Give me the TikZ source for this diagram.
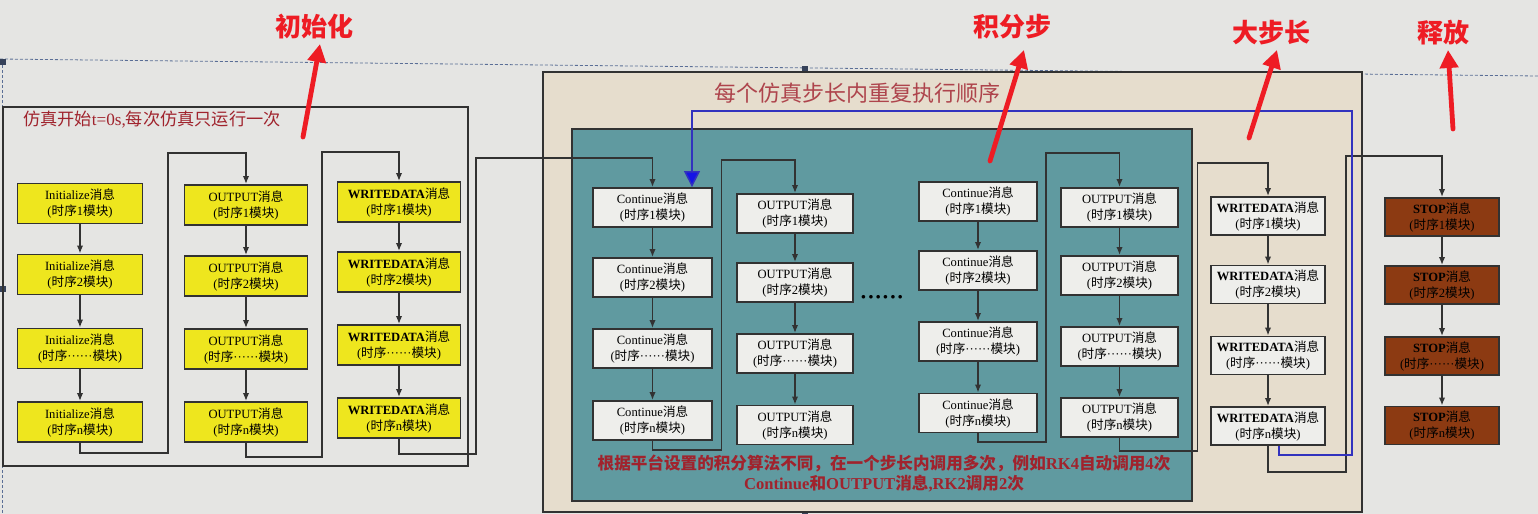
\documentclass[tikz,border=0pt]{standalone}
\usepackage{fontspec}
\setmainfont{Liberation Serif}
\newfontfamily\cjk{Noto Sans CJK SC}
\usetikzlibrary{arrows.meta}
\definecolor{bg}{RGB}{229,229,227}
\definecolor{yel}{RGB}{238,230,30}
\definecolor{boxgray}{RGB}{238,238,235}
\definecolor{tealbg}{RGB}{96,154,160}
\definecolor{beigebg}{RGB}{230,221,205}
\definecolor{brownbox}{RGB}{140,58,18}
\definecolor{dkred}{RGB}{160,35,45}
\definecolor{annred}{RGB}{238,28,36}
\definecolor{bluel}{RGB}{50,50,190}
\definecolor{bluehead}{RGB}{20,20,230}
\definecolor{frame}{RGB}{50,50,50}
\definecolor{selcol}{RGB}{90,110,150}
\newcommand{\zh}[1]{{\cjk #1}}
\newcommand{\mtxt}[2]{#1\zh{消息}\\(\zh{时序}#2\zh{模块})}
\newcommand{\dd}{······}
\tikzset{
  basebox/.style={draw=frame, line width=0.9pt, align=center, inner sep=0pt,
    font=\fontsize{6.3}{8}\selectfont, minimum height=20pt},
  ybox/.style={basebox, fill=yel, minimum width=#1},
  ybox/.default=61.5pt,
  gbox/.style={basebox, fill=boxgray, minimum width=#1, minimum height=19.5pt},
  gbox/.default=59pt,
  sbox/.style={basebox, fill=brownbox, minimum width=57pt, minimum height=19pt, text=black},
  conn/.style={draw=frame, line width=0.95pt, -{Latex[length=4pt,width=3.2pt]}},
  arr/.style={conn},
  blueconn/.style={draw=bluel, line width=0.75pt, -{Triangle[length=8pt,width=8pt,fill=bluehead]}},
  redlab/.style={font=\cjk\bfseries\fontsize{13}{15}\selectfont, text=annred},
  redarr/.style={draw=annred, line width=2.4pt, line cap=round, -{Triangle[length=9pt,width=9pt]}},
  frm/.style={draw=frame, line width=0.9pt},
  selline/.style={draw=selcol, line width=0.4pt, dash pattern=on 1.5pt off 1pt},
}
\begin{document}
\begin{tikzpicture}[x=0.5pt,y=-0.5pt]
\fill[bg] (0,0) rectangle (1538,514);
\useasboundingbox (0,0) rectangle (1538,514);
% selection frame
\draw[selline] (0,59) -- (1538,76);
\draw[selline] (2,60) -- (2,514);
\fill[selcol!60!black] (0,59) rectangle (6,65);
\fill[selcol!60!black] (0,286) rectangle (6,292);
\fill[selcol!60!black] (802,66) rectangle (808,72);
\fill[selcol!60!black] (802,508) rectangle (808,514);

% frames
\draw[frm] (3,107) rectangle (468,466);
\filldraw[frm, fill=beigebg] (543,72) rectangle (1362,512);
\filldraw[frm, fill=tealbg] (572,129) rectangle (1192,501);

% titles
\node[anchor=west, text=dkred, font=\fontsize{8.6}{10}\selectfont] (t0) at (16,120) {\zh{仿真开始}t=0s,\zh{每次仿真只运行一次}};
\node[text=dkred!85, font=\fontsize{11}{13}\selectfont] (t1) at (857,93) {\zh{每个仿真步长内重复执行顺序}};
\node[text=dkred, align=center, font=\bfseries\fontsize{8.3}{10}\selectfont] (t2) at (884,473)
  {\zh{根据平台设置的积分算法不同，在一个步长内调用多次，例如}RK4\zh{自动调用}4\zh{次}\\
   Continue\zh{和}OUTPUT\zh{消息},RK2\zh{调用}2\zh{次}};

% column 1: Initialize
\node[ybox=62.5pt] (i1) at (80,203.5) {\mtxt{Initialize}{1}};
\node[ybox=62.5pt] (i2) at (80,274.5) {\mtxt{Initialize}{2}};
\node[ybox=62.5pt] (i3) at (80,348.5) {\mtxt{Initialize}{\dd}};
\node[ybox=62.5pt] (i4) at (80,422) {\mtxt{Initialize}{n}};
% column 2: OUTPUT
\node[ybox] (o1) at (246,205) {\mtxt{OUTPUT}{1}};
\node[ybox] (o2) at (246,276) {\mtxt{OUTPUT}{2}};
\node[ybox] (o3) at (246,349) {\mtxt{OUTPUT}{\dd}};
\node[ybox] (o4) at (246,422) {\mtxt{OUTPUT}{n}};
% column 3: WRITEDATA
\node[ybox] (w1) at (399,202) {\mtxt{\textbf{WRITEDATA}}{1}};
\node[ybox] (w2) at (399,272) {\mtxt{\textbf{WRITEDATA}}{2}};
\node[ybox] (w3) at (399,345) {\mtxt{\textbf{WRITEDATA}}{\dd}};
\node[ybox] (w4) at (399,418) {\mtxt{\textbf{WRITEDATA}}{n}};
% Continue A
\node[gbox=59.5pt] (ca1) at (652.5,207.5) {\mtxt{Continue}{1}};
\node[gbox=59.5pt] (ca2) at (652.5,277.5) {\mtxt{Continue}{2}};
\node[gbox=59.5pt] (ca3) at (652.5,348.5) {\mtxt{Continue}{\dd}};
\node[gbox=59.5pt] (ca4) at (652.5,420.5) {\mtxt{Continue}{n}};
% OUTPUT A
\node[gbox=58pt] (oa1) at (795,213.5) {\mtxt{OUTPUT}{1}};
\node[gbox=58pt] (oa2) at (795,282.5) {\mtxt{OUTPUT}{2}};
\node[gbox=58pt] (oa3) at (795,353.5) {\mtxt{OUTPUT}{\dd}};
\node[gbox=58pt] (oa4) at (795,425) {\mtxt{OUTPUT}{n}};
% dots
\node[font=\bfseries\fontsize{11}{12}\selectfont] (dots) at (882,300) {\dd};
% Continue B
\node[gbox] (cb1) at (978,201.5) {\mtxt{Continue}{1}};
\node[gbox] (cb2) at (978,270.5) {\mtxt{Continue}{2}};
\node[gbox] (cb3) at (978,341.5) {\mtxt{Continue}{\dd}};
\node[gbox] (cb4) at (978,413) {\mtxt{Continue}{n}};
% OUTPUT B
\node[gbox=58.5pt] (ob1) at (1119.5,207.5) {\mtxt{OUTPUT}{1}};
\node[gbox=58.5pt] (ob2) at (1119.5,275.5) {\mtxt{OUTPUT}{2}};
\node[gbox=58.5pt] (ob3) at (1119.5,346.5) {\mtxt{OUTPUT}{\dd}};
\node[gbox=58.5pt] (ob4) at (1119.5,417.5) {\mtxt{OUTPUT}{n}};
% WRITEDATA step
\node[gbox=57pt, minimum height=19pt] (ws1) at (1268,216) {\mtxt{\textbf{WRITEDATA}}{1}};
\node[gbox=57pt, minimum height=19pt] (ws2) at (1268,284.5) {\mtxt{\textbf{WRITEDATA}}{2}};
\node[gbox=57pt, minimum height=19pt] (ws3) at (1268,355.5) {\mtxt{\textbf{WRITEDATA}}{\dd}};
\node[gbox=57pt, minimum height=19pt] (ws4) at (1268,426) {\mtxt{\textbf{WRITEDATA}}{n}};
% STOP
\node[sbox] (s1) at (1442,217) {\mtxt{\textbf{STOP}}{1}};
\node[sbox] (s2) at (1442,285) {\mtxt{\textbf{STOP}}{2}};
\node[sbox] (s3) at (1442,356) {\mtxt{\textbf{STOP}}{\dd}};
\node[sbox] (s4) at (1442,425.5) {\mtxt{\textbf{STOP}}{n}};

% column arrows
\foreach \c in {i,o,w,ca,oa,cb,ob,ws,s}{
  \draw[arr] (\c1) -- (\c2);
  \draw[arr] (\c2) -- (\c3);
  \draw[arr] (\c3) -- (\c4);
}
% loops between columns
\draw[conn] (i4.south) -- ++(0,10) -| ++(88,-300) -| (o1.north);
\draw[conn] (o4.south) -- ++(0,14) -| ++(76,-305) -| (w1.north);
\draw[conn] (w4.south) -- ++(0,15) -| ++(77,-296) -| (ca1.north);
\draw[conn] (ca4.south) -- ++(0,9) -| ++(69,-290) -| (oa1.north);
\draw[conn] (cb4.south) -- ++(0,9) -| ++(68,-289) -| (ob1.north);
\draw[conn] (ob4.south) -- ++(0,13) -| ++(78,-288) -| (ws1.north);
\draw[conn] (ws4.south) -- ++(0,26) -| ++(78,-316) -| (s1.north);
% blue repeat line
\draw[blueconn] ([xshift=5.5pt]ws4.south) -- ++(0,9) -| ++(73,-344) -| ([xshift=19.75pt]ca1.north);

% red annotations
\node[redlab] (a1) at (314,27) {初始化};
\node[redlab] (a2) at (1012,27) {积分步};
\node[redlab] (a3) at (1271,33) {大步长};
\node[redlab] (a4) at (1443,33) {释放};
\coordinate (a1t) at (303,137); \coordinate (a1h) at (320,44);
\coordinate (a2t) at (990,161); \coordinate (a2h) at (1024,50);
\coordinate (a3t) at (1249,138); \coordinate (a3h) at (1277,50);
\coordinate (a4t) at (1453,129); \coordinate (a4h) at (1448,50);
\draw[redarr] (a1t) -- (a1h);
\draw[redarr] (a2t) -- (a2h);
\draw[redarr] (a3t) -- (a3h);
\draw[redarr] (a4t) -- (a4h);
\end{tikzpicture}
\end{document}
